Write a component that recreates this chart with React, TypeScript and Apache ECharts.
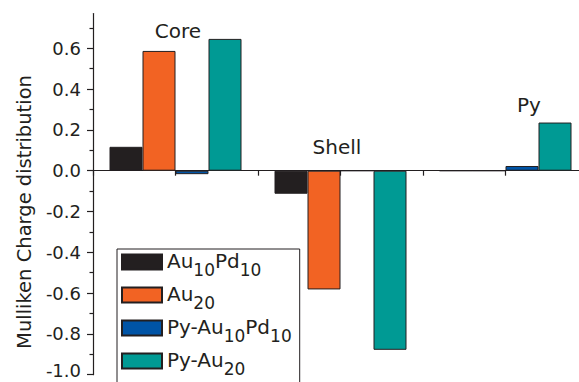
import React, { useEffect, useRef } from "react";
import * as echarts from "echarts";

const categories = ["Core", "Shell", "Py"];
const seriesNames = ["Au10Pd10", "Au20", "Py-Au10Pd10", "Py-Au20"];
const au10pd10 = [0.117, -0.113, 0];
const au20 = [0.587, -0.582, 0];
const pyAu10pd10 = [-0.017, 0, 0.023];
const pyAu20 = [0.646, -0.878, 0.236];
const yTicks = [-1.0, -0.8, -0.6, -0.4, -0.2, 0.0, 0.2, 0.4, 0.6];
const yMinorTicks = [-0.9, -0.7, -0.5, -0.3, -0.1, 0.1, 0.3, 0.5, 0.7];
const legendRich: Record<string, string> = {
  "Au10Pd10": "{n|Au}{s|10}{n|Pd}{s|10}",
  "Au20": "{n|Au}{s|20}",
  "Py-Au10Pd10": "{n|Py-Au}{s|10}{n|Pd}{s|10}",
  "Py-Au20": "{n|Py-Au}{s|20}",
};
const colors = ["#231f20", "#f26323", "#0054a6", "#009a94"];

const FONT = "DejaVu Sans";
const INK = "#231f20";

export default function App() {
  const ref = useRef<HTMLDivElement>(null);
  useEffect(() => {
    document.body.style.margin = "0";
    const chart = echarts.init(ref.current!, null, { renderer: "svg" });
    const data = [au10pd10, au20, pyAu10pd10, pyAu20];
    chart.setOption({
      animation: false,
      backgroundColor: "#ffffff",
      grid: {
        left: 93,
        top: 13.6,
        width: 495,
        height: 361.1,
        containLabel: false,
        outerBoundsMode: "none",
      },
      xAxis: [
        {
          type: "category",
          data: categories,
          show: false,
          boundaryGap: true,
        },
        {
          type: "value",
          min: 0,
          max: 3,
          interval: 0.5,
          position: "bottom",
          axisLine: { show: true, onZero: true, lineStyle: { color: INK, width: 1.2 } },
          axisTick: { show: true, inside: false, length: 5, lineStyle: { color: INK, width: 1.2 } },
          axisLabel: { show: false },
          splitLine: { show: false },
        },
      ],
      yAxis: [
        {
          type: "value",
          min: -1.0,
          max: 0.77,
          position: "left",
          axisLine: { show: true, onZero: false, lineStyle: { color: INK, width: 1.2 } },
          axisTick: {
            show: true,
            inside: false,
            length: 6,
            customValues: yTicks,
            lineStyle: { color: INK, width: 1.2 },
          },
          axisLabel: {
            show: true,
            customValues: yTicks,
            margin: 12,
            fontFamily: FONT,
            fontSize: 18,
            color: INK,
            formatter: (v: number) =>
              v <= yTicks[0] + 1e-9 ? `{m|${v.toFixed(1)}}` : v.toFixed(1),
            rich: {
              m: { fontFamily: FONT, fontSize: 18, color: INK, padding: [0, 0, 8, 0] },
            },
          },
          splitLine: { show: false },
        },
        {
          type: "value",
          min: -1.0,
          max: 0.77,
          position: "left",
          axisLine: { show: false },
          axisTick: {
            show: true,
            inside: false,
            length: 3.5,
            customValues: yMinorTicks,
            lineStyle: { color: INK, width: 1.2 },
          },
          axisLabel: { show: false },
          splitLine: { show: false },
        },
      ],
      legend: {
        orient: "vertical",
        left: 117,
        top: 249,
        height: 300,
        padding: [2, 8, 20, 4],
        itemGap: 6,
        itemWidth: 40,
        itemHeight: 15,
        icon: "rect",
        backgroundColor: "#ffffff",
        borderColor: INK,
        borderWidth: 1,
        data: seriesNames,
        formatter: (name: string) => legendRich[name] || name,
        textStyle: {
          fontFamily: FONT,
          color: INK,
          rich: {
            n: { fontFamily: FONT, fontSize: 20, lineHeight: 22, color: INK, verticalAlign: "top" },
            s: {
              fontFamily: FONT,
              fontSize: 17,
              lineHeight: 17,
              color: INK,
              verticalAlign: "top",
              padding: [10, 0, 0, 0],
            },
          },
        },
      },
      series: seriesNames.map((name, i) => ({
        name,
        type: "bar",
        xAxisIndex: 0,
        yAxisIndex: 0,
        data: data[i],
        barWidth: 33,
        barGap: "0%",
        itemStyle: { color: colors[i], borderColor: INK, borderWidth: 1 },
      })),
      graphic: [
        {
          type: "text",
          x: 178,
          y: 31,
          style: { text: "Core", fontFamily: FONT, fontSize: 20, fill: INK, align: "center", verticalAlign: "middle" },
        },
        {
          type: "text",
          x: 337,
          y: 147,
          style: { text: "Shell", fontFamily: FONT, fontSize: 20, fill: INK, align: "center", verticalAlign: "middle" },
        },
        {
          type: "text",
          x: 529,
          y: 105,
          style: { text: "Py", fontFamily: FONT, fontSize: 20, fill: INK, align: "center", verticalAlign: "middle" },
        },
        {
          type: "text",
          x: 24,
          y: 212,
          rotation: Math.PI / 2,
          style: {
            text: "Mulliken Charge distribution",
            fontFamily: FONT,
            fontSize: 19.5,
            fill: INK,
            align: "center",
            verticalAlign: "middle",
          },
        },
      ],
    });
    return () => chart.dispose();
  }, []);
  return <div ref={ref} style={{ width: 579, height: 382 }} />;
}
